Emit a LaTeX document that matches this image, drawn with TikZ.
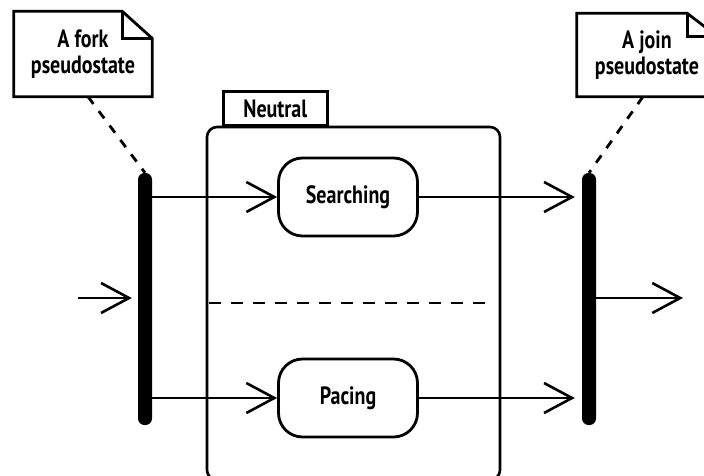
\documentclass[tikz,border=0pt]{standalone}
\usepackage{fontspec}
\setmainfont[FakeStretch=0.8]{PT Sans}
\usetikzlibrary{arrows.meta}
\begin{document}
\begin{tikzpicture}[x=1pt,y=-1pt,
  lbl/.style={font=\fontsize{25}{26}\selectfont\bfseries, inner sep=0pt},
  bar/.style={fill=black, draw=none, rounded corners=6.5pt, minimum width=14pt, minimum height=252pt, inner sep=0pt},
  statebox/.style={draw, line width=2.8pt, rounded corners=24pt, minimum width=139pt, minimum height=78pt, font=\fontsize{25}{26}\selectfont\bfseries},
  conn/.style={line width=2.6pt, -{Straight Barb[length=28pt,width=30pt,line width=2.6pt]}},
  notebox/.style={line width=2.8pt},
  anchorline/.style={line width=2.8pt, dash pattern=on 9pt off 9pt},
]
\useasboundingbox (0,0) rectangle (704,476);
\fill[white] (0,0) rectangle (704,476);

% Neutral composite state
\draw[line width=2.6pt, rounded corners=10pt] (207,127) rectangle (500,480);
\node[draw, line width=2.6pt, minimum width=104pt, minimum height=34pt, anchor=south west, inner sep=0pt] (tab) at (222,127) {};
\node[lbl] (tablbl) at (tab.center) {Neutral};
\coordinate (sepL) at (207,303);
\coordinate (sepR) at (488,303);
\draw[line width=2.8pt, dash pattern=on 12pt off 10pt] (sepL) ++(2,0) -- (sepR);

% States
\node[statebox] (search) at (348,197) {Searching};
\node[statebox] (pacing) at (348,398) {Pacing};

% Fork and join bars
\node[bar] (fork) at (145,299) {};
\node[bar] (join) at (589,299) {};

% Notes
\node[lbl, align=center, minimum width=138pt, minimum height=85pt] (forknote) at (83,54) {A fork\\pseudostate};
\draw[notebox] (forknote.south west) -- (forknote.north west) -- ([xshift=-30pt]forknote.north east) -- ([yshift=-27pt]forknote.north east) -- (forknote.south east) -- cycle;
\draw[notebox] ([xshift=-30pt]forknote.north east) -- ([xshift=-30pt,yshift=-27pt]forknote.north east) -- ([yshift=-27pt]forknote.north east);

\node[lbl, align=center, minimum width=140pt, minimum height=83pt] (joinnote) at (647,55) {A join\\pseudostate};
\draw[notebox] (joinnote.south west) -- (joinnote.north west) -- ([xshift=-30pt]joinnote.north east) -- ([yshift=-23pt]joinnote.north east) -- (joinnote.south east) -- cycle;
\draw[notebox] ([xshift=-30pt]joinnote.north east) -- ([xshift=-30pt,yshift=-23pt]joinnote.north east) -- ([yshift=-23pt]joinnote.north east);

% Note anchors
\draw[anchorline] ([xshift=5pt]forknote.south) -- (fork.north);
\draw[anchorline] ([xshift=-4pt]joinnote.south) -- (join.north);

% Transitions
\coordinate (start) at (78,298);
\draw[conn, shorten >=6pt] (start) -- (fork.west |- start);
\draw[conn] (fork.east |- search.west) -- (search.west);
\draw[conn] (fork.east |- pacing.west) -- (pacing.west);
\draw[conn, shorten >=7pt] (search.east) -- (join.west |- search.east);
\draw[conn, shorten >=7pt] (pacing.east) -- (join.west |- pacing.east);
\coordinate (finish) at (683,298);
\draw[conn] (join.east |- finish) -- (finish);
\end{tikzpicture}
\end{document}
